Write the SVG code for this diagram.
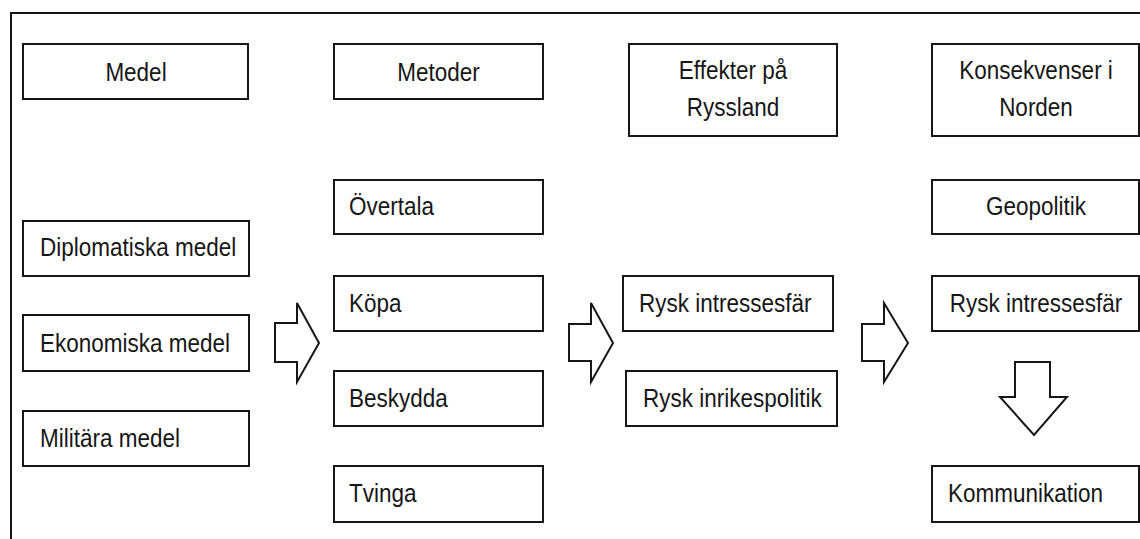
<svg xmlns="http://www.w3.org/2000/svg" width="1140" height="539" viewBox="0 0 1140 539">
<style>
.box{fill:#fff;stroke:#161616;stroke-width:2}
.arr{fill:#fff;stroke:#161616;stroke-width:2;stroke-linejoin:miter}
text{font-family:"Liberation Sans",Arial,sans-serif;font-size:22.5px;fill:#161616}
.c{text-anchor:middle}
</style>
<rect width="1140" height="539" fill="#fff"/>
<path d="M11 540 V13 H1141" fill="none" stroke="#161616" stroke-width="2"/>
<g id="n-medel"><rect class="box" x="23" y="44" width="225" height="55"/><text class="c" transform="translate(136 81) scale(1 1.14)">Medel</text></g>
<g id="n-metoder"><rect class="box" x="334" y="44" width="209" height="55"/><text class="c" transform="translate(438.5 81) scale(1 1.14)">Metoder</text></g>
<g id="n-effekter"><rect class="box" x="629" y="44" width="208" height="92"/><text class="c" transform="translate(733 79) scale(1 1.14)">Effekter på</text><text class="c" transform="translate(733 116) scale(1 1.14)">Ryssland</text></g>
<g id="n-konsekvenser"><rect class="box" x="932" y="44" width="207" height="92"/><text class="c" transform="translate(1036 79) scale(1 1.14)">Konsekvenser i</text><text class="c" transform="translate(1036 116) scale(1 1.14)">Norden</text></g>
<g id="n-diplomatiska"><rect class="box" x="23" y="221" width="226" height="55"/><text transform="translate(40 256) scale(1 1.14)">Diplomatiska medel</text></g>
<g id="n-ekonomiska"><rect class="box" x="23" y="315" width="226" height="56"/><text transform="translate(40 352) scale(1 1.14)">Ekonomiska medel</text></g>
<g id="n-militara"><rect class="box" x="23" y="411" width="226" height="55"/><text transform="translate(40 447) scale(1 1.14)">Militära medel</text></g>
<g id="n-overtala"><rect class="box" x="334" y="180" width="209" height="54"/><text transform="translate(349 215) scale(1 1.14)">Övertala</text></g>
<g id="n-kopa"><rect class="box" x="334" y="276" width="209" height="55"/><text transform="translate(349 311.5) scale(1 1.14)">Köpa</text></g>
<g id="n-beskydda"><rect class="box" x="334" y="371" width="209" height="55"/><text transform="translate(349 406.5) scale(1 1.14)">Beskydda</text></g>
<g id="n-tvinga"><rect class="box" x="334" y="466" width="209" height="56"/><text transform="translate(349 502) scale(1 1.14)">Tvinga</text></g>
<g id="n-rysk-intresse1"><rect class="box" x="623" y="276" width="210" height="55"/><text transform="translate(639 311.5) scale(1 1.14)">Rysk intressesfär</text></g>
<g id="n-rysk-inrikes"><rect class="box" x="626" y="371" width="211" height="55"/><text transform="translate(643 406.5) scale(1 1.14)">Rysk inrikespolitik</text></g>
<g id="n-geopolitik"><rect class="box" x="932" y="180" width="207" height="54"/><text class="c" transform="translate(1036 215) scale(1 1.14)">Geopolitik</text></g>
<g id="n-rysk-intresse2"><rect class="box" x="932" y="276" width="207" height="55"/><text class="c" transform="translate(1036 311.5) scale(1 1.14)">Rysk intressesfär</text></g>
<g id="n-kommunikation"><rect class="box" x="932" y="466" width="207" height="56"/><text transform="translate(948 502) scale(1 1.14)">Kommunikation</text></g>
<g id="connectors">
<path class="arr" d="M275 323 H297 V303 L319 343 L297 382 V362 H275 Z"/>
<path class="arr" d="M569 324 H591 V303 L613 343 L591 382 V361 H569 Z"/>
<path class="arr" d="M862 324 H884 V303 L908 343 L884 382 V361 H862 Z"/>
<path class="arr" d="M1015 362 H1050 V397 H1067 L1034 435 L1000 397 H1015 Z"/>
</g>
</svg>
